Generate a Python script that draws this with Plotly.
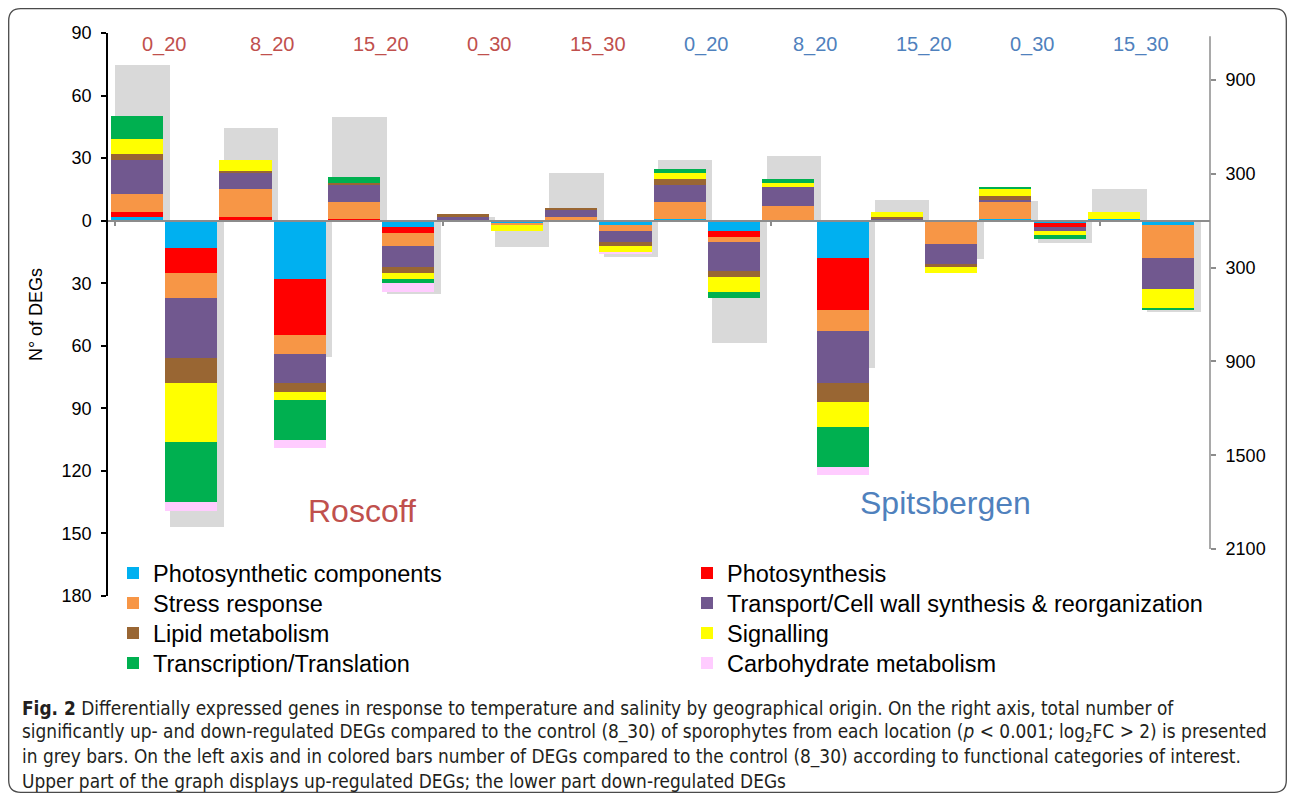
import plotly.graph_objects as go

# ---------------- data ----------------
conditions = ["0_20", "8_20", "15_20", "0_30", "15_30",
              "0_20", "8_20", "15_20", "0_30", "15_30"]
origins = ["Roscoff"] * 5 + ["Spitsbergen"] * 5

categories = ["Photosynthetic components", "Photosynthesis", "Stress response",
              "Transport/Cell wall synthesis & reorganization", "Lipid metabolism",
              "Signalling", "Transcription/Translation", "Carbohydrate metabolism"]
cat_colors = ["#00B0F0", "#FF0000", "#F79646", "#71588F",
              "#996633", "#FFFF00", "#00B050", "#FFCCFF"]

# up-regulated DEGs per functional category (left axis)
photo_comp_up = [2, 0, 0, 0, 0, 1, 0, 0, 1, 1]
photosynth_up = [2, 2, 1, 0, 0, 0, 0, 0, 0, 0]
stress_up = [9, 13, 8, 0, 2, 8, 7, 0, 8, 0]
transport_up = [16, 8, 8, 2, 3, 8, 9, 1, 1, 0]
lipid_up = [3, 1, 1, 1, 1, 3, 0, 1, 2, 0]
signal_up = [7, 5, 0, 0, 0, 3, 2, 2, 3, 3]
transcr_up = [11, 0, 3, 0, 0, 2, 2, 0, 1, 0]
carb_up = [0, 0, 0, 0, 0, 0, 0, 0, 0, 0]

# down-regulated DEGs per functional category (left axis, magnitudes)
photo_comp_down = [13, 28, 3, 1, 2, 5, 18, 0, 1, 2]
photosynth_down = [12, 27, 3, 0, 0, 3, 25, 0, 2, 0]
stress_down = [12, 9, 6, 1, 3, 2, 10, 11, 0, 16]
transport_down = [29, 14, 10, 0, 5, 14, 25, 10, 2, 15]
lipid_down = [12, 4, 3, 0, 2, 3, 9, 1, 0, 0]
signal_down = [28, 4, 3, 3, 3, 7, 12, 3, 2, 9]
transcr_down = [29, 19, 2, 0, 0, 3, 19, 0, 2, 1]
carb_down = [4, 4, 4, 0, 1, 0, 4, 0, 0, 0]

# total DEGs (right axis, grey bars)
total_up = [995, 590, 665, 25, 305, 390, 415, 135, 125, 200]
total_down = [1960, 870, 470, 170, 230, 785, 940, 245, 143, 585]

left_tick_vals = [-180, -150, -120, -90, -60, -30, 0, 30, 60, 90]
right_tick_vals = [-2100, -1500, -900, -300, 300, 900]

up_series = [photo_comp_up, photosynth_up, stress_up, transport_up,
             lipid_up, signal_up, transcr_up, carb_up]
down_series = [photo_comp_down, photosynth_down, stress_down, transport_down,
               lipid_down, signal_down, transcr_down, carb_down]

# ---------------- layout constants ----------------
# the page body has an 8px margin, so the figure is 16px smaller than the window
OFF = 8
W, H = 1295 - 2 * OFF, 801 - 2 * OFF
ML, MR, MT, MB = 108 - OFF, 1295 - 1210 - OFF, 33 - OFF, 801 - 596 - OFF
PW = W - ML - MR
PH = H - MT - MB


def px_x(px):
    # screen x (reference coordinates) -> paper fraction
    return (px - OFF - ML) / PW


def px_y(py):
    # screen y (reference coordinates) -> paper fraction
    return (MT + PH - (py - OFF)) / PH


n = len(conditions)
up_slots = [2 * k for k in range(n)]
down_slots = [2 * k + 1 for k in range(n)]

fig = go.Figure()

# grey totals on the right axis (primary y, drawn underneath)
fig.add_trace(go.Bar(
    x=up_slots + down_slots,
    y=total_up + [-v for v in total_down],
    width=1.0, offset=-0.4,
    marker=dict(color="#D9D9D9", line=dict(width=0)),
    yaxis="y", xaxis="x", showlegend=False, hoverinfo="skip"))

legend_names = ["legend"] + [f"legend{i}" for i in range(2, 9)]
for name, color, up, dn, lg in zip(categories, cat_colors, up_series, down_series, legend_names):
    fig.add_trace(go.Bar(
        name=name,
        x=up_slots + down_slots,
        y=up + [-v for v in dn],
        width=0.96,
        marker=dict(color=color, line=dict(width=0)),
        yaxis="y2", xaxis="x", legend=lg))

annotations = []
for k, (cond, org) in enumerate(zip(conditions, origins)):
    annotations.append(dict(
        x=2 * k + 0.5, y=84.5, xref="x", yref="y2", text=cond, showarrow=False,
        font=dict(size=20, color="#C0504D" if org == "Roscoff" else "#4F81BD",
                  family="Arial, Liberation Sans")))

annotations.append(dict(x=4.15, y=-139, xref="x", yref="y2", text="Roscoff",
                        showarrow=False,
                        font=dict(size=32, color="#C0504D", family="Arial, Liberation Sans")))
annotations.append(dict(x=14.9, y=-135.5, xref="x", yref="y2", text="Spitsbergen",
                        showarrow=False,
                        font=dict(size=32, color="#4F81BD", family="Arial, Liberation Sans")))

caption_lines = [
    "<b>Fig. 2</b> Differentially expressed genes in response to temperature and salinity by geographical origin. On the right axis, total number of",
    "significantly up- and down-regulated DEGs compared to the control (8_30) of sporophytes from each location (<i>p</i> &lt; 0.001; log<sub>2</sub>FC &gt; 2) is presented",
    "in grey bars. On the left axis and in colored bars number of DEGs compared to the control (8_30) according to functional categories of interest.",
    "Upper part of the graph displays up-regulated DEGs; the lower part down-regulated DEGs",
]
for i, line in enumerate(caption_lines):
    annotations.append(dict(
        x=px_x(20), y=px_y(708 + 24.3 * i), xref="paper", yref="paper",
        xanchor="left", yanchor="middle", text=line, showarrow=False,
        font=dict(size=18.9, color="#231F20",
                  family="Liberation Sans Narrow, DejaVu Sans Condensed, Roboto")))

# rounded frame
x0, x1 = px_x(8.7), px_x(1286.3)
yt, yb = px_y(8.7), px_y(792.3)
rx, ry = 12 / PW, 12 / PH
frame_path = (f"M{x0+rx},{yt} L{x1-rx},{yt} Q{x1},{yt} {x1},{yt-ry} "
              f"L{x1},{yb+ry} Q{x1},{yb} {x1-rx},{yb} L{x0+rx},{yb} "
              f"Q{x0},{yb} {x0},{yb+ry} L{x0},{yt-ry} Q{x0},{yt} {x0+rx},{yt} Z")

shapes = [
    dict(type="path", xref="paper", yref="paper", path=frame_path,
         line=dict(color="#4a4a4a", width=1.3), fillcolor="rgba(0,0,0,0)"),
    dict(type="line", xref="paper", yref="y", x0=1, x1=1, y0=-2100, y1=1180,
         line=dict(color="#8c8c8c", width=1.5)),
]

layout = dict(
    width=W, height=H,
    margin=dict(l=ML, r=MR, t=MT, b=MB, autoexpand=False),
    paper_bgcolor="white", plot_bgcolor="white",
    barmode="relative", bargap=0,
    font=dict(family="Arial, Liberation Sans", color="black"),
    xaxis=dict(range=[-0.534, 19.77], anchor="free", position=180 / 270,
               showline=True, linecolor="#8c8c8c", linewidth=1.5,
               ticks="outside", ticklen=5, tickcolor="#8c8c8c", tickwidth=1.5,
               tickmode="array", tickvals=[-0.41, 5.64, 11.69, 17.74],
               showticklabels=False, showgrid=False, zeroline=False),
    yaxis=dict(range=[-2400, 1200], side="right", showline=False, showgrid=False,
               zeroline=False, ticks="outside", ticklen=5, tickcolor="#8c8c8c",
               tickwidth=1.5, tickmode="array", tickvals=right_tick_vals,
               ticktext=[str(abs(v)) for v in right_tick_vals],
               tickfont=dict(size=18), ticklabelstandoff=6),
    yaxis2=dict(range=[-180, 90], side="left", overlaying="y", showline=True,
                linecolor="black", linewidth=1.5, showgrid=False, zeroline=False,
                ticks="outside", ticklen=5, tickcolor="black", tickwidth=1.5,
                tickmode="array", tickvals=left_tick_vals,
                ticktext=[str(abs(v)) for v in left_tick_vals],
                tickfont=dict(size=18), ticklabelstandoff=6,
                title=dict(text="N° of DEGs", font=dict(size=18), standoff=14)),
    annotations=annotations,
    shapes=shapes,
)

# one legend box per entry: two columns, four rows (row pitch 30px)
LEG_FONT = 23.5
item_center_offset = 5 + (LEG_FONT * 1.3 + 3) / 2
for i, lg in enumerate(legend_names):
    col, row = i % 2, i // 2
    center_y = 573 + 30 * row
    layout[lg] = dict(x=px_x(113 if col == 0 else 687),
                      y=px_y(center_y - item_center_offset),
                      xanchor="left", yanchor="top", orientation="v",
                      font=dict(size=LEG_FONT), bgcolor="rgba(0,0,0,0)")

fig.update_layout(**layout)

fig.write_html("out.html")
